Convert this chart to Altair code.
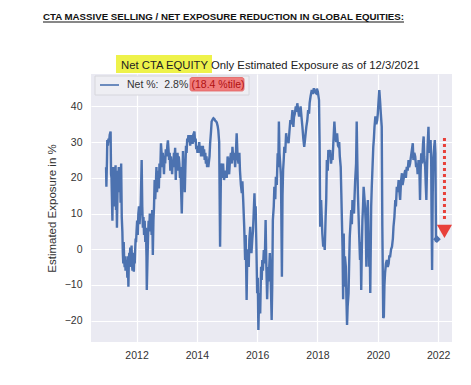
import altair as alt
import pandas as pd

heading = "CTA MASSIVE SELLING / NET EXPOSURE REDUCTION IN GLOBAL EQUITIES:"
title_hl = "Net CTA EQUITY"
title_full = "Net CTA EQUITY Only Estimated Exposure as of 12/3/2021"
legend_main = "Net %:\u00a0 2.8%"
legend_pct = "(18.4 %tile)"
y_title = "Estimated Exposure in %"

x_ticks = [2012, 2014, 2016, 2018, 2020, 2022]
y_ticks = [-20, -10, 0, 10, 20, 30, 40]

years = [
    2010.99, 2011.00, 2011.02, 2011.03, 2011.05, 2011.07, 2011.09, 2011.11, 2011.14, 2011.155,
    2011.17, 2011.185, 2011.20, 2011.215, 2011.23, 2011.245, 2011.26, 2011.275, 2011.29, 2011.305,
    2011.32, 2011.335, 2011.35, 2011.365, 2011.38, 2011.395, 2011.41, 2011.425, 2011.44, 2011.455,
    2011.47, 2011.49, 2011.51, 2011.53, 2011.545, 2011.56, 2011.575, 2011.59, 2011.605, 2011.62,
    2011.635, 2011.65, 2011.665, 2011.68, 2011.695, 2011.71, 2011.73, 2011.745, 2011.76, 2011.775,
    2011.79, 2011.805, 2011.82, 2011.835, 2011.85, 2011.865, 2011.88, 2011.895, 2011.91, 2011.925,
    2011.94, 2011.955, 2011.97, 2011.985, 2012.00, 2012.02, 2012.04, 2012.06, 2012.08, 2012.10,
    2012.12, 2012.14, 2012.17, 2012.19, 2012.21, 2012.23, 2012.25, 2012.27, 2012.29, 2012.31,
    2012.33, 2012.34, 2012.36, 2012.38, 2012.40, 2012.42, 2012.44, 2012.46, 2012.48, 2012.50,
    2012.52, 2012.54, 2012.56, 2012.58, 2012.60, 2012.62, 2012.64, 2012.66, 2012.68, 2012.70,
    2012.72, 2012.74, 2012.76, 2012.78, 2012.81, 2012.83, 2012.85, 2012.87, 2012.89, 2012.91,
    2012.93, 2012.95, 2012.97, 2013.00, 2013.02, 2013.04, 2013.06, 2013.08, 2013.10, 2013.12,
    2013.14, 2013.16, 2013.18, 2013.20, 2013.22, 2013.24, 2013.26, 2013.28, 2013.30, 2013.32,
    2013.34, 2013.36, 2013.38, 2013.40, 2013.42, 2013.44, 2013.46, 2013.48, 2013.50, 2013.52,
    2013.54, 2013.56, 2013.58, 2013.60, 2013.62, 2013.64, 2013.66, 2013.68, 2013.70, 2013.72,
    2013.74, 2013.76, 2013.78, 2013.80, 2013.82, 2013.84, 2013.86, 2013.88, 2013.92, 2013.94,
    2013.96, 2013.98, 2014.00, 2014.02, 2014.04, 2014.06, 2014.08, 2014.10, 2014.12, 2014.14,
    2014.16, 2014.18, 2014.20, 2014.22, 2014.24, 2014.26, 2014.28, 2014.30, 2014.32, 2014.34,
    2014.36, 2014.38, 2014.42, 2014.44, 2014.47, 2014.49, 2014.52, 2014.55, 2014.58, 2014.61,
    2014.64, 2014.66, 2014.69, 2014.71, 2014.74, 2014.77, 2014.80, 2014.83, 2014.85, 2014.87,
    2014.90, 2014.93, 2014.96, 2014.99, 2015.02, 2015.05, 2015.07, 2015.10, 2015.13, 2015.16,
    2015.18, 2015.21, 2015.24, 2015.27, 2015.30, 2015.32, 2015.35, 2015.38, 2015.41, 2015.43,
    2015.46, 2015.49, 2015.51, 2015.54, 2015.57, 2015.60, 2015.62, 2015.65, 2015.67, 2015.70,
    2015.72, 2015.74, 2015.77, 2015.79, 2015.81, 2015.84, 2015.86, 2015.88, 2015.91, 2015.93,
    2015.95, 2015.97, 2016.00, 2016.02, 2016.04, 2016.06, 2016.08, 2016.10, 2016.13, 2016.15,
    2016.17, 2016.19, 2016.22, 2016.25, 2016.28, 2016.30, 2016.33, 2016.36, 2016.38, 2016.42,
    2016.44, 2016.46, 2016.48, 2016.50, 2016.52, 2016.55, 2016.57, 2016.60, 2016.62, 2016.65,
    2016.68, 2016.70, 2016.72, 2016.74, 2016.77, 2016.79, 2016.82, 2016.84, 2016.86, 2016.88,
    2016.90, 2016.93, 2016.96, 2016.99, 2017.02, 2017.04, 2017.07, 2017.10, 2017.13, 2017.15,
    2017.17, 2017.20, 2017.22, 2017.25, 2017.28, 2017.30, 2017.33, 2017.36, 2017.39, 2017.41,
    2017.44, 2017.47, 2017.50, 2017.53, 2017.56, 2017.59, 2017.63, 2017.66, 2017.69, 2017.72,
    2017.74, 2017.77, 2017.81, 2017.84, 2017.88, 2017.91, 2017.95, 2017.98, 2018.01, 2018.05,
    2018.07, 2018.09, 2018.12, 2018.16, 2018.19, 2018.21, 2018.24, 2018.27, 2018.29, 2018.31,
    2018.34, 2018.36, 2018.39, 2018.42, 2018.45, 2018.47, 2018.50, 2018.53, 2018.56, 2018.59,
    2018.62, 2018.65, 2018.68, 2018.70, 2018.72, 2018.74, 2018.77, 2018.79, 2018.81, 2018.83,
    2018.85, 2018.87, 2018.89, 2018.91, 2018.94, 2018.96, 2018.98, 2019.00, 2019.03, 2019.05,
    2019.07, 2019.10, 2019.12, 2019.14, 2019.16, 2019.19, 2019.21, 2019.23, 2019.25, 2019.28,
    2019.30, 2019.32, 2019.34, 2019.36, 2019.38, 2019.41, 2019.43, 2019.45, 2019.47, 2019.49,
    2019.51, 2019.53, 2019.56, 2019.58, 2019.60, 2019.62, 2019.64, 2019.67, 2019.69, 2019.71,
    2019.73, 2019.75, 2019.78, 2019.80, 2019.82, 2019.85, 2019.87, 2019.89, 2019.92, 2019.95,
    2019.98, 2020.00, 2020.02, 2020.05, 2020.08, 2020.10, 2020.13, 2020.15, 2020.18, 2020.20,
    2020.22, 2020.24, 2020.27, 2020.30, 2020.33, 2020.36, 2020.38, 2020.41, 2020.44, 2020.47,
    2020.50, 2020.52, 2020.55, 2020.58, 2020.60, 2020.63, 2020.66, 2020.69, 2020.71, 2020.74,
    2020.77, 2020.80, 2020.82, 2020.85, 2020.88, 2020.91, 2020.93, 2020.96, 2020.99, 2021.02,
    2021.04, 2021.07, 2021.10, 2021.13, 2021.16, 2021.18, 2021.21, 2021.24, 2021.27, 2021.30,
    2021.32, 2021.35, 2021.38, 2021.40, 2021.42, 2021.44, 2021.47, 2021.50, 2021.52, 2021.54,
    2021.57, 2021.59, 2021.61, 2021.63, 2021.65, 2021.68, 2021.70, 2021.72, 2021.75, 2021.77,
    2021.78, 2021.80, 2021.82, 2021.84, 2021.87, 2021.89, 2021.91, 2021.93, 2021.96,
]
values = [
    23, 17.5, 25, 30.6, 29, 31, 30, 32, 33, 21,
    20, 14, 8, 19, 23, 15, 22, 12, 21, 23.5,
    11, 17, 6, 14, 22, 18, 23, 16, 21, 22,
    13, 24, 9, 5, -1, -4, 2, -3, -5, -2,
    -6, -3, -5, -4, -8, -2, -10.5, -3, -1, -5,
    0.5, -3, -2, 1, -4, -6, -1, -3, -6.3, -2,
    -4, 0, 3, 2, 5, 8, 4, 10, 12, 7,
    10, 13, 25, 12, 6, 9, 4, 8, 2, 6,
    -2, -11.4, -4, 3, 8, 5, 10, 6, 9, 4,
    11, -1.6, 8, 12, 19.4, 14, 18, 23, 16, 20,
    22, 17, 24, 20, 29.7, 27, 23, 27, 25, 21,
    26, 24, 28, 26, 29, 30.5, 28, 25, 27, 22,
    26, 24, 21, 25, 23, 27, 25, 28.4, 19.4, 25,
    23, 27, 22, 26, 24, 20, 23, 16, 10, 18,
    27.5, 21, 24, 16, 23, 29, 27, 31, 30, 32,
    30, 31, 29, 32, 30, 31, 29.5, 32, 33, 30,
    31, 28, 29, 27, 29, 28, 30, 27, 29, 26,
    28, 27, 29, 26, 28, 25, 27, 24, 26, 23,
    24, 23, 26, 29.7, 33, 35.8, 36.3, 36.7, 36.5, 36,
    35.8, 35.5, 34.5, 33.4, 30, 0.7, 23, 24, 20, 24,
    19.4, 21, 22, 20, 26, 23, 21, 25, 27, 24,
    28.7, 25, 27, 23, 28, 32.5, 26, 24, 27, 22,
    18, 15.7, 19, 13, 6.4, -3, 4, -14.2, -2, 0,
    -5, 2.6, 6.3, 0, -1.1, 3, 5, 9, 15.7, 10,
    12, 3, -12.3, -8, -22.6, -15, -12.3, -18, -4.9, -8.6,
    -3, -6, -0.2, -4, 8.2, -3, -14, -5, -9, -1.1,
    -6, -12.3, -19.8, -10, 8.2, 12, 17.5, 14, 20.3, 18,
    26.9, 23, 35.8, 27, 23.1, 20, -7.7, 15, 22.2, 25,
    28.7, 27, 32.5, 30, 31, 29.7, 33, 36.2, 35, 37,
    39, 34.3, 37, 38, 40, 38.5, 40.9, 39, 37.2, 38.5,
    40, 37, 34.3, 31, 28.7, 31, 34.3, 36, 39, 38,
    41, 42.8, 44.6, 43.5, 45.1, 44, 43.7, 45, 44.2, 41.8,
    30, 6.3, 13.8, 4.4, 0.7, 3, -0.2, 9.1, 14, 25,
    22, 27.8, 26, 27.8, 24, 26, 25, 30.6, 35.8, 31.6,
    30, 32.5, 29, 28.7, 30, 26, 23, 15.7, 8, 0.7,
    -14, 4.4, -10.5, -2, -4.9, -14, -21.2, -16, -12.3, -4,
    3.5, 8, 11, 7, 13.8, 12, 10, 15, 19.4, 24,
    35.8, 25, 15.7, 10, 4.4, -3, 2, -11.4, 0, 8.2,
    12, 17.5, 14, 11, 7, -4.9, 9, 13.8, 5, -4.9,
    3, -12.3, 12, 17.5, 22, 28.7, 31, 34.3, 37.2, 35,
    36.2, 38, 40.9, 44.6, 40.9, 38, 34.3, 6.3, -19.3, -18.9,
    -10, -6.7, -4, -3, -5, -4, -2, -2, 0, 0.7,
    3, 6.3, 9, 13.8, 12, 17.5, 16, 19.4, 17, 13.8,
    19, 21.3, 18, 19.4, 21, 22.2, 20, 23.1, 22, 25,
    23, 24, 26, 27.8, 29.7, 25, 27, 26, 23, 24,
    21, 25, 22, 13.8, 22, 26.9, 24, 29.7, 31.6, 26,
    23.1, 18, 13.8, 22, 28.7, 34.3, 27, 28.7, 30.6, 25,
    11.9, -5.8, 15, 25, 28.7, 30.6, 26.9, 2.6, 2.8,
]

last_year = [2021.96]
last_value = [2.8]
arrow_x = [2022.21]
arrow_top = [31.2]
arrow_bottom = [7.6]
arrow_head = [5.0]

df = pd.DataFrame({"year": years, "net": values})
df_last = pd.DataFrame({"year": last_year, "net": last_value})
df_arrow = pd.DataFrame({"year": arrow_x, "net": arrow_top, "net2": arrow_bottom})
df_head = pd.DataFrame({"year": arrow_x, "net": arrow_head})
one = pd.DataFrame({"k": [0]})

FONT = "Liberation Sans"
xs = alt.Scale(domain=[2010.49, 2022.46], nice=False, zero=False)
ys = alt.Scale(domain=[-26.0, 49.1], nice=False, zero=False)

xaxis = alt.Axis(values=x_ticks, format="d", title=None, domain=False, ticks=False,
                 labelFont=FONT, labelFontSize=10.5, labelColor="#333333", labelPadding=8,
                 gridColor="white", gridWidth=1.2)
yaxis = alt.Axis(values=y_ticks, title=y_title, domain=False, ticks=False,
                 labelFont=FONT, labelFontSize=10.5, labelColor="#333333", labelPadding=9,
                 gridColor="white", gridWidth=1.2, titleFont=FONT, titleFontSize=11.5,
                 titleFontWeight="normal", titleColor="#333333", titlePadding=7)

line = alt.Chart(df).mark_line(color="#4C72B0", strokeWidth=2.4, strokeJoin="miter").encode(
    x=alt.X("year:Q", scale=xs, axis=xaxis),
    y=alt.Y("net:Q", scale=ys, axis=yaxis),
)
marker = alt.Chart(df_last).mark_point(shape="diamond", filled=True, size=60,
                                        color="#4C72B0", opacity=1).encode(
    x=alt.X("year:Q", scale=xs), y=alt.Y("net:Q", scale=ys))
arrow = alt.Chart(df_arrow).mark_rule(color="#E8403A", strokeWidth=3, strokeDash=[3, 3]).encode(
    x=alt.X("year:Q", scale=xs), y=alt.Y("net:Q", scale=ys), y2="net2:Q")
head = alt.Chart(df_head).mark_point(shape="triangle-down", filled=True, size=230,
                                      color="#E8403A", opacity=1).encode(
    x=alt.X("year:Q", scale=xs), y=alt.Y("net:Q", scale=ys))

# legend box
leg_box = alt.Chart(one).mark_rect(fill="#EEEEF3", stroke="#D6D6DC", strokeWidth=1).encode(
    x=alt.value(4), x2=alt.value(158), y=alt.value(2), y2=alt.value(21))
leg_line = alt.Chart(one).mark_rule(color="#4C72B0", strokeWidth=1.6).encode(
    x=alt.value(9), x2=alt.value(28), y=alt.value(11))
leg_text = alt.Chart(one).mark_text(align="left", baseline="middle", font=FONT,
                                     fontSize=10.5, color="#333333").encode(
    x=alt.value(36), y=alt.value(10.5), text=alt.value(legend_main))
pct_box = alt.Chart(one).mark_rect(fill="#F07C7C", stroke="#E06060", strokeWidth=0.8,
                                    cornerRadius=2).encode(
    x=alt.value(99), x2=alt.value(153), y=alt.value(3.5), y2=alt.value(17))
pct_text = alt.Chart(one).mark_text(align="left", baseline="middle", font=FONT,
                                     fontSize=10.5, color="#B01010").encode(
    x=alt.value(100.5), y=alt.value(10.5), text=alt.value(legend_pct))

# titles
hl_box = alt.Chart(one).mark_rect(fill="#EEF24A").encode(
    x=alt.value(25), x2=alt.value(121), y=alt.value(-19), y2=alt.value(-1))
title_text = alt.Chart(one).mark_text(align="left", baseline="alphabetic", font=FONT,
                                       fontSize=11.3, color="#222222").encode(
    x=alt.value(30), y=alt.value(-5), text=alt.value(title_full))
head_text = alt.Chart(one).mark_text(align="center", baseline="alphabetic",
                                      font=FONT, fontWeight="bold",
                                      fontSize=9.7, color="#111111").encode(
    x=alt.value(132.5), y=alt.value(-54), text=alt.value(heading))
head_rule = alt.Chart(one).mark_rule(color="#111111", strokeWidth=1).encode(
    x=alt.value(-48), x2=alt.value(313), y=alt.value(-52))

chart = alt.layer(
    line, marker, arrow, head, leg_box, leg_line, leg_text, pct_box, pct_text,
    hl_box, title_text, head_text, head_rule,
).properties(
    width=361, height=268, autosize="none",
    padding={"left": 83, "top": 66, "right": 10, "bottom": 30},
    background="white",
).configure_view(fill="#EAEAF2", strokeWidth=0)

chart.save("out.html", embed_options={"renderer": "svg", "actions": False})
